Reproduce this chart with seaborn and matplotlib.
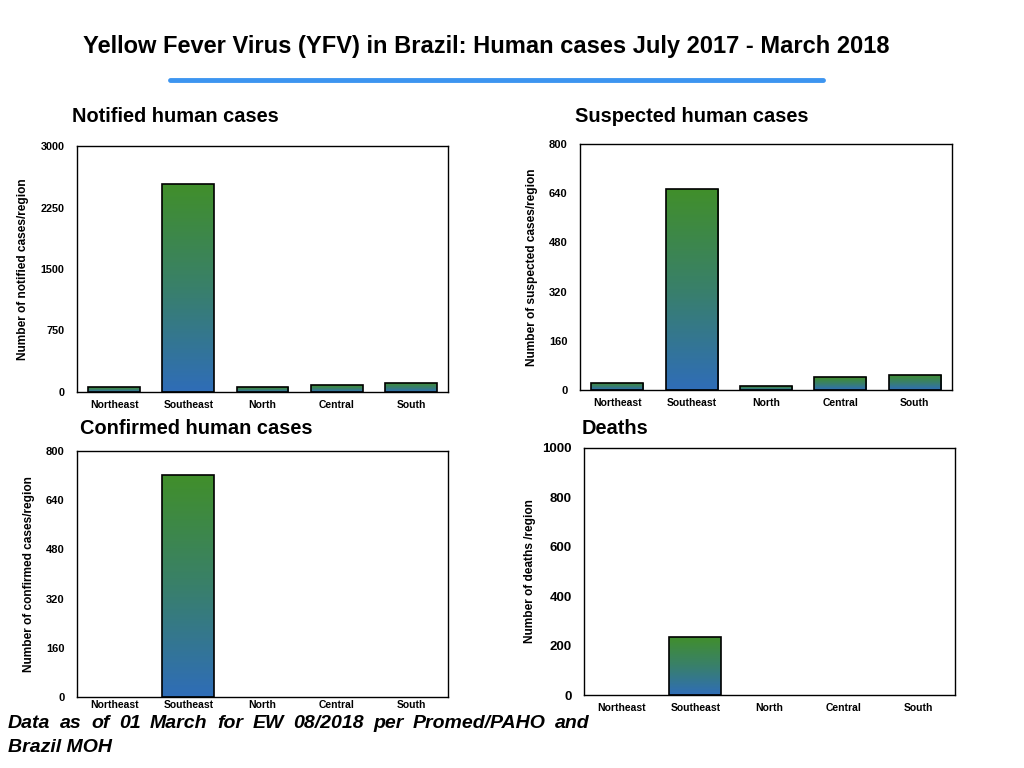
import numpy as np
import pandas as pd
import matplotlib
matplotlib.use("Agg")
import matplotlib.pyplot as plt
from matplotlib.colors import LinearSegmentedColormap
import seaborn as sns

regions = ["Northeast", "Southeast", "North", "Central", "South"]
notified = [55, 2540, 60, 85, 115]
suspected = [23, 654, 13, 42, 49]
confirmed = [0, 722, 0, 0, 0]
deaths = [0, 235, 0, 0, 0]

sns.set_theme(style="white")
plt.rcParams['font.family'] = ['Liberation Sans', 'DejaVu Sans']
plt.rcParams['text.color'] = 'black'
plt.rcParams['axes.labelcolor'] = 'black'
plt.rcParams['xtick.color'] = 'black'
plt.rcParams['ytick.color'] = 'black'

fig = plt.figure(figsize=(10.24, 7.68), dpi=100)
W, H = 1024, 768

def ax_at(l, t, r, b):
    return fig.add_axes([l / W, 1 - b / H, (r - l) / W, (b - t) / H])

cmap = LinearSegmentedColormap.from_list("g", ["#2f6db8", "#39806a", "#418f2a"])
grad = np.linspace(0, 1, 256).reshape(-1, 1)

panels = [
    (ax_at(77, 146, 448, 392), notified, 3000, [0, 750, 1500, 2250, 3000],
     "Number of notified cases/region", "Notified human cases", 7.8, 8, 6),
    (ax_at(580, 144, 952, 390), suspected, 800, [0, 160, 320, 480, 640, 800],
     "Number of suspected cases/region", "Suspected human cases", 8, 8, 6),
    (ax_at(77, 451, 448, 697), confirmed, 800, [0, 160, 320, 480, 640, 800],
     "Number of confirmed cases/region", "Confirmed human cases", 8, 8, 2.5),
    (ax_at(584, 448, 955, 695), deaths, 1000, [0, 200, 400, 600, 800, 1000],
     "Number of deaths /region", "Deaths", 9.5, 4, 6),
]

title_pos = [(72, 116), (575, 116), (80, 428), (582, 428)]

for (ax, vals, ymax, ticks, ylab, ttl, ytfs, lpad, xpad), (tx, ty) in zip(panels, title_pos):
    df = pd.DataFrame({"region": regions, "value": vals})
    sns.barplot(data=df, x="region", y="value", ax=ax, width=0.7,
                color="#3a7f6a", edgecolor="black", linewidth=1.2, saturation=1)
    ax.set_ylim(0, ymax)
    ax.set_xlim(-0.5, 4.5)
    ax.set_yticks(ticks)
    ax.set_yticklabels([str(t) for t in ticks], fontsize=ytfs, fontweight="bold")
    ax.set_xticks(range(5))
    ax.set_xticklabels(regions, fontsize=7.5, fontweight="bold")
    ax.set_xlabel("")
    ax.set_ylabel(ylab, fontsize=8.6, fontweight="bold", labelpad=lpad)
    ax.tick_params(axis="y", length=0, pad=9)
    ax.tick_params(axis="x", length=0, pad=xpad)
    for s in ax.spines.values():
        s.set_visible(True)
        s.set_color("black")
        s.set_linewidth(1.0)
    for p in ax.patches:
        x0, y0 = p.get_x(), p.get_y()
        w, h = p.get_width(), p.get_height()
        if h <= 0:
            p.set_visible(False)
            continue
        p.set_facecolor("none")
        im = ax.imshow(grad, cmap=cmap, origin="lower", aspect="auto",
                       extent=[x0, x0 + w, y0, y0 + h], zorder=p.get_zorder() - 0.1,
                       interpolation="bilinear")
        im.set_clip_path(p)
    ax.set_xlim(-0.5, 4.5)
    ax.set_ylim(0, ymax)
    fig.text(tx / W, 1 - ty / H, ttl, fontsize=14.4, fontweight="bold",
             ha="left", va="center")

fig.text(486 / W, 1 - 46 / H,
         "Yellow Fever Virus (YFV) in Brazil: Human cases July 2017 - March 2018",
         fontsize=17, fontweight="bold", ha="center", va="center")
fig.add_artist(plt.Line2D([170 / W, 823 / W], [1 - 80 / H, 1 - 80 / H],
                          color="#3d95f0", linewidth=3.5, transform=fig.transFigure))

# justified footer line
line1 = "Data as of 01 March for EW 08/2018 per Promed/PAHO and".split(" ")
fkw = dict(fontsize=14, fontweight="bold", fontstyle="italic", va="center")
fig.canvas.draw()
renderer = fig.canvas.get_renderer()
left, right = 8, 590
words = [fig.text(0, 1 - 723 / H, w, ha="left", **fkw) for w in line1]
widths = [t.get_window_extent(renderer).width for t in words]
gap = (right - left - sum(widths)) / (len(words) - 1)
x = left
for t, wdt in zip(words, widths):
    t.set_x(x / W)
    x += wdt + gap
fig.text(left / W, 1 - 747 / H, "Brazil MOH", ha="left", **fkw)

fig.savefig("out.png", dpi=100)
